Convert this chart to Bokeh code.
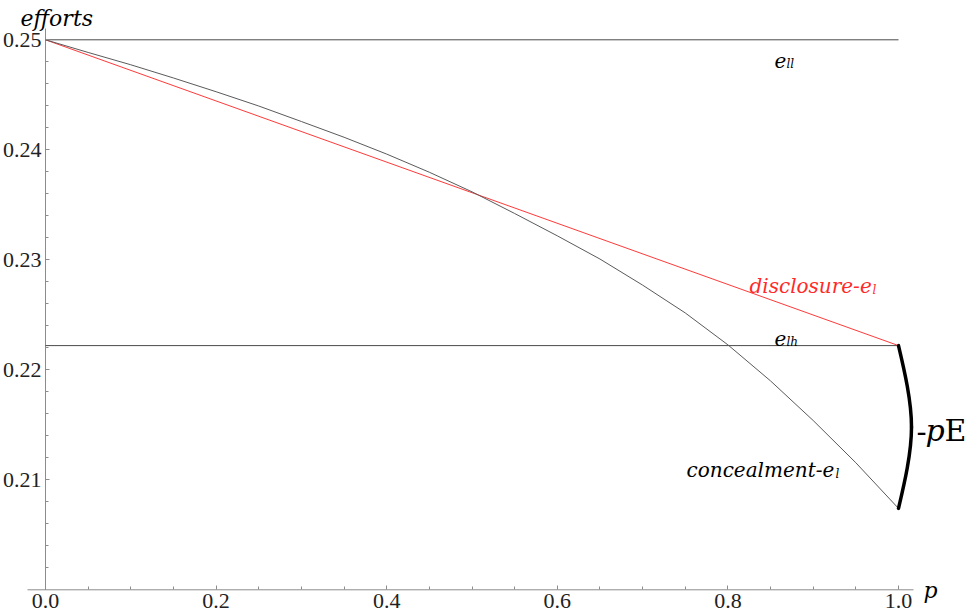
from bokeh.plotting import figure
from bokeh.models import FixedTicker, PrintfTickFormatter, Label
from bokeh.embed import file_html
from bokeh.resources import INLINE

# ---- data ----
p_grid = [0.00, 0.05, 0.10, 0.15, 0.20, 0.25, 0.30, 0.35, 0.40, 0.45, 0.50,
          0.55, 0.60, 0.65, 0.70, 0.75, 0.80, 0.85, 0.90, 0.95, 1.00]
concealment = [0.25000, 0.24885, 0.24773, 0.24653, 0.24528, 0.24398, 0.24257,
               0.24114, 0.23961, 0.23796, 0.23618, 0.23421, 0.23218, 0.23007,
               0.22770, 0.22517, 0.22227, 0.21899, 0.21539, 0.21155, 0.20740]
line_p = [0.0, 1.0]
disclosure = [0.2500, 0.2222]
e_ll = [0.2500, 0.2500]
e_lh = [0.2222, 0.2222]

x_ticks = [0.0, 0.2, 0.4, 0.6, 0.8, 1.0]
x_minor = [0.05, 0.10, 0.15, 0.25, 0.30, 0.35, 0.45, 0.50, 0.55, 0.65, 0.70,
           0.75, 0.85, 0.90, 0.95]
y_ticks = [0.21, 0.22, 0.23, 0.24, 0.25]
y_minor = [0.202, 0.204, 0.206, 0.208, 0.212, 0.214, 0.216, 0.218, 0.222,
           0.224, 0.226, 0.228, 0.232, 0.234, 0.236, 0.238, 0.242, 0.244,
           0.246, 0.248]

SERIF = "Liberation Serif"
MATH = "DejaVu Serif"

W, H = 970, 614
PX_X = 853.0      # pixels per unit of p
PX_Y = 11000.0    # pixels per unit of effort
x0 = -45 / PX_X
y1 = 0.25 + 39.3 / PX_Y

p = figure(width=W, height=H,
           x_range=(x0, x0 + W / PX_X), y_range=(y1 - H / PX_Y, y1),
           output_backend="svg", toolbar_location=None,
           min_border_left=0, min_border_right=0, min_border_top=0,
           min_border_bottom=0)
p.outline_line_color = None
p.grid.visible = False

AX = "#8c8c8c"
for ax in (p.xaxis[0], p.yaxis[0]):
    ax.major_tick_in = 4
    ax.major_tick_out = 0
    ax.minor_tick_in = 3
    ax.minor_tick_out = 0
    ax.major_tick_line_color = AX
    ax.minor_tick_line_color = AX
    ax.axis_line_color = None
    ax.major_label_text_font = SERIF
    ax.major_label_text_font_size = "22px"
    ax.major_label_text_color = "#222222"
    ax.major_label_standoff = 4

p.xaxis[0].ticker = FixedTicker(ticks=x_ticks, minor_ticks=x_minor)
p.xaxis[0].formatter = PrintfTickFormatter(format="%.1f")
p.xaxis[0].fixed_location = 0.2
p.yaxis[0].ticker = FixedTicker(ticks=y_ticks, minor_ticks=y_minor)
p.yaxis[0].formatter = PrintfTickFormatter(format="%.2f")
p.yaxis[0].fixed_location = 0.0

# axis lines (Mathematica style: crossing at the origin, short overhang)
p.segment(x0=[-0.0211, 0.0], y0=[0.2, 0.2], x1=[1.0176, 0.0], y1=[0.2, 0.25103],
          line_color=AX, line_width=1)

# horizontal reference efforts
p.line(line_p, e_ll, line_color="#4a4a4a", line_width=1)
p.line(line_p, e_lh, line_color="#4a4a4a", line_width=1)
# disclosure (red) and concealment (gray)
p.line(line_p, disclosure, line_color="#ff3a3a", line_width=1)
p.line(p_grid, concealment, line_color="#5a5a5a", line_width=1)

# brace between disclosure end and concealment end
top = disclosure[-1]
bot = concealment[-1]
mid = (top + bot) / 2
hh = (top - bot) / 2
w = 13 / PX_X
p.bezier(x0=[1.0, 1.0], y0=[top, bot], x1=[1.0 + w, 1.0 + w], y1=[mid, mid],
         cx0=[1.0 + 0.46 * w, 1.0 + 0.46 * w], cy0=[top - 0.31 * hh, bot + 0.31 * hh],
         cx1=[1.0 + w, 1.0 + w], cy1=[mid + 0.32 * hh, mid - 0.32 * hh],
         line_color="black", line_width=3.5, line_cap="round")


def lab(x, y, text, size, color="black", style="italic", font=MATH, xo=0, yo=0):
    p.add_layout(Label(x=x, y=y, text=text, x_offset=xo, y_offset=yo,
                       text_font=font, text_font_style=style,
                       text_font_size=size, text_color=color,
                       text_baseline="alphabetic", text_align="left"))


lab(-0.0293, 0.25194, "efforts", "22px")
lab(1.0293, 0.19993, "p", "22px")

lab(0.8546, 0.24812, "e", "20px")
lab(0.8546, 0.24812, "ll", "12px", xo=12, yo=-4)
lab(0.8546, 0.22285, "e", "20px")
lab(0.8546, 0.22285, "lh", "12px", xo=12, yo=-4)

lab(0.8253, 0.22766, "disclosure-e", "20px", color="#ff2a2a")
lab(0.8253, 0.22766, "l", "12px", color="#ff2a2a", xo=123, yo=-4)
lab(0.7515, 0.21085, "concealment-e", "20px")
lab(0.7515, 0.21085, "l", "12px", xo=149, yo=-4)

lab(1.0211, 0.21448, "-", "30px", style="normal")
lab(1.0211, 0.21448, "p", "30px", xo=9)
lab(1.0211, 0.21448, "E", "30px", style="normal", xo=28)

open("out.html", "w").write(file_html(p, INLINE))
